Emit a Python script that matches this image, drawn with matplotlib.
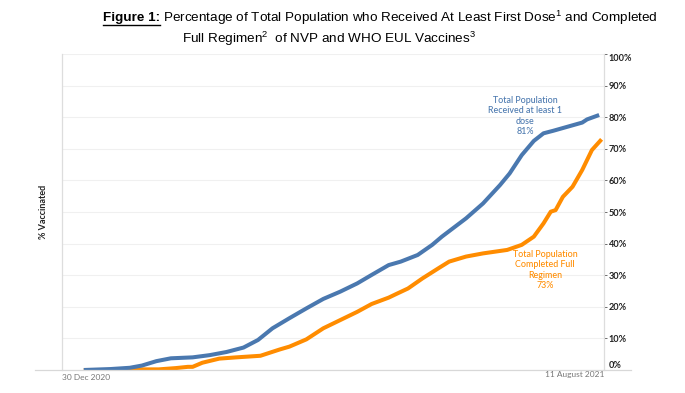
import matplotlib
matplotlib.use("Agg")
import matplotlib.pyplot as plt
from matplotlib.lines import Line2D
import pandas as pd

plt.rcParams["mathtext.fontset"] = "custom"
plt.rcParams["mathtext.rm"] = "Liberation Sans"
plt.rcParams["mathtext.it"] = "Liberation Sans"
plt.rcParams["mathtext.default"] = "regular"

start_date = "2020-12-30"
end_date = "2021-08-11"

first_dose_days = [9, 20, 28, 33, 39, 45, 54, 61, 68, 75, 81, 87, 94, 101, 108, 115, 122,
                   128, 135, 140, 147, 153, 157, 167, 174, 181, 185, 190, 195, 199, 203,
                   209, 215, 217, 222]
first_dose_pct = [0.0, 0.3, 0.7, 1.4, 2.8, 3.7, 4.0, 4.7, 5.7, 7.1, 9.5, 13.2, 16.4, 19.5,
                  22.5, 24.8, 27.4, 30.1, 33.2, 34.3, 36.4, 39.6, 42.2, 48.0, 52.7, 58.5,
                  62.2, 68.0, 72.5, 74.9, 75.7, 77.0, 78.3, 79.3, 80.7]

full_days = [9, 20, 29, 40, 47, 52, 54, 58, 65, 72, 82, 90, 94, 101, 108, 115, 122, 128,
             135, 138, 143, 149, 156, 160, 167, 174, 184, 190, 195, 199, 202, 204, 207,
             211, 215, 219, 223]
full_pct = [0.0, 0.0, 0.2, 0.2, 0.6, 1.0, 1.0, 2.3, 3.6, 4.0, 4.5, 6.5, 7.4, 9.7, 13.2,
            15.8, 18.4, 20.9, 22.9, 24.0, 25.8, 29.0, 32.4, 34.3, 35.9, 36.9, 38.0, 39.6,
            42.2, 46.4, 50.1, 50.6, 54.8, 58.0, 63.3, 69.6, 73.0]

y_ticks = [0, 10, 20, 30, 40, 50, 60, 70, 80, 90, 100]
y_tick_labels = [f"{v}%" for v in y_ticks]

BLUE = "#4A78AF"
ORANGE = "#FF8C00"
FONT = "Lato"

t0 = pd.Timestamp(start_date)
t1 = pd.Timestamp(end_date)
fd_dates = [t0 + pd.Timedelta(days=d) for d in first_dose_days]
fr_dates = [t0 + pd.Timedelta(days=d) for d in full_days]

W, H = 685, 393
fig = plt.figure(figsize=(W / 100, H / 100), dpi=100)
ax = fig.add_axes([62 / W, (H - 370) / H, (604 - 62) / W, (370 - 54) / H])

ax.plot(fr_dates, full_pct, color=ORANGE, lw=2.9, solid_capstyle="butt",
        solid_joinstyle="round", zorder=3)
ax.plot(fd_dates, first_dose_pct, color=BLUE, lw=2.9, solid_capstyle="butt",
        solid_joinstyle="round", zorder=4)

ax.set_xlim(t0, t1)
ax.set_ylim(0, 100)
ax.set_xticks([])
ax.yaxis.tick_right()
ax.set_yticks(y_ticks)
ax.set_yticklabels(y_tick_labels, fontsize=6.6, fontfamily=FONT, color="#222222",
                   fontweight="bold")
ax.tick_params(axis="y", length=2.5, width=0.6, color="#555555", pad=1)
labels = ax.get_yticklabels()
labels[0].set_va("bottom")
labels[-1].set_va("top")
ax.grid(axis="y", color="#F0F0F0", lw=0.8)
ax.set_axisbelow(True)
for s in ["top", "bottom"]:
    ax.spines[s].set_visible(False)
ax.spines["left"].set_color("#DDDDDD")
ax.spines["right"].set_color("#DDDDDD")
ax.spines["left"].set_linewidth(0.9)
ax.spines["right"].set_linewidth(0.9)

fig.add_artist(Line2D([35 / W, 631 / W], [(H - 370) / H] * 2, color="#D8D8D8", lw=0.9,
                      transform=fig.transFigure))

fig.text(62 / W, (H - 378) / H, "30 Dec 2020", fontsize=6, fontfamily=FONT,
         color="#777777", ha="left", va="center")
fig.text(604 / W, (H - 375) / H, "11 August 2021", fontsize=6, fontfamily=FONT,
         color="#777777", ha="right", va="center")

fig.text(43 / W, (H - 212) / H, "% Vaccinated", rotation=90, fontsize=6.5,
         fontfamily=FONT, fontweight="bold", color="#222222", ha="center", va="center")

fig.text(525 / W, (H - 116) / H, "Total Population\nReceived at least 1\ndose\n81%",
         fontsize=6.4, fontfamily=FONT, fontweight="medium", color=BLUE, ha="center",
         va="center", linespacing=1.15)
fig.text(545 / W, (H - 270) / H, "Total Population\nCompleted Full\nRegimen\n73%",
         fontsize=6.4, fontfamily=FONT, fontweight="medium", color=ORANGE, ha="center",
         va="center", linespacing=1.15)

# Title
TF = "Liberation Sans"
TS = 9.7
fig.canvas.draw()
r = fig.canvas.get_renderer()
t_a = fig.text(103 / W, (H - 18) / H, "Figure 1:", fontsize=TS, fontfamily=TF,
               fontweight="bold", ha="left", va="center")
bb = t_a.get_window_extent(r)
fig.text(bb.x1 / W + 3 / W, (H - 18) / H,
         "Percentage of Total Population who Received At Least First Dose$^{1}$ and Completed",
         fontsize=TS, fontfamily=TF, ha="left", va="center")
fig.add_artist(Line2D([bb.x0 / W, bb.x1 / W], [(bb.y0 - 1) / H] * 2, color="black",
                      lw=1.0, transform=fig.transFigure))
fig.text(182 / W, (H - 39) / H, "Full Regimen$^{2}$  of NVP and WHO EUL Vaccines$^{3}$",
         fontsize=TS, fontfamily=TF, ha="left", va="center")

fig.savefig("out.png", dpi=100)
